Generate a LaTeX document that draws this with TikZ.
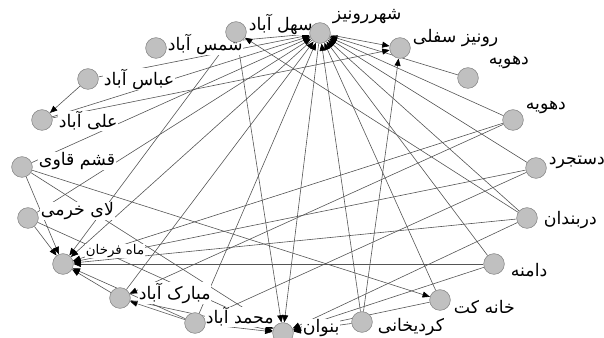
\documentclass[tikz,border=0pt]{standalone}
\usepackage{fontspec}
\newfontfamily\arabicfont[Script=Arabic]{DejaVu Sans}
\TeXXeTstate=1
\usetikzlibrary{arrows.meta}
\pgfdeclarelayer{ties}
\pgfdeclarelayer{labels}
\pgfsetlayers{ties,labels,main}

\begin{document}
\begin{tikzpicture}[x=0.75pt,y=0.75pt,yscale=-1,xscale=1,
  vertex/.style={circle,draw={rgb,255:red,130;green,130;blue,130},fill={rgb,255:red,192;green,192;blue,192},minimum size=15.5pt,inner sep=0pt},
  tie/.style={draw={rgb,255:red,85;green,85;blue,85},line width=0.45pt,-{Triangle[length=5.5pt,width=4.5pt,color=black]}},
  lbl/.style={fill=white,inner sep=0.5pt,anchor=west,font=\arabicfont\fontsize{13}{14}\selectfont},
  smalllbl/.style={lbl,font=\arabicfont\fontsize{10}{11}\selectfont}]
\useasboundingbox (0,0) rectangle (604,338);

% Vertices
\node [vertex] (hub) at (320,33) {};
\node [vertex] (sahl) at (236,32) {};
\node [vertex] (shams) at (156,48) {};
\node [vertex] (ronsof) at (400,48) {};
\node [vertex] (dahA) at (468,78) {};
\node [vertex] (abbas) at (88,79) {};
\node [vertex] (ali) at (42,120) {};
\node [vertex] (qeshm) at (22,167) {};
\node [vertex] (lay) at (28,218) {};
\node [vertex] (mah) at (63,264) {};
\node [vertex] (mobarak) at (120,298) {};
\node [vertex] (mohamad) at (195,323) {};
\node [vertex] (bonvan) at (283,333) {};
\node [vertex] (kord) at (362,322) {};
\node [vertex] (khane) at (440,300) {};
\node [vertex] (damane) at (494,264) {};
\node [vertex] (darband) at (527,218) {};
\node [vertex] (dastjerd) at (536,168) {};
\node [vertex] (dahB) at (513,120) {};

\begin{pgfonlayer}{ties}
% Ties into the hub
\draw [tie] (shams) -- (hub);
\draw [tie] (abbas) -- (hub);
\draw [tie] (ali) -- (hub);
\draw [tie] (qeshm) -- (hub);
\draw [tie] (lay) -- (hub);
\draw [tie] (mobarak) -- (hub);
\draw [tie] (mohamad) -- (hub);
\draw [tie] (kord) -- (hub);
\draw [tie] (khane) -- (hub);
\draw [tie] (damane) -- (hub);
\draw [tie] (darband) -- (hub);
\draw [tie] (dastjerd) -- (hub);
\draw [tie] (dahB) -- (hub);
\draw [tie] (dahA) -- (hub);
% Ties out of the hub
\draw [tie] (hub) -- (ronsof);
\draw [tie] (hub) -- (mah);
\draw [tie] (hub) -- (bonvan);
% Other ties
\draw [tie] (abbas) -- (ali);
\draw [tie] (ali) -- (ronsof);
\draw [tie] (kord) -- (ronsof);
\draw [tie] (darband) -- (sahl);
\draw [tie] (sahl) -- (mah);
\draw [tie] (sahl) -- (bonvan);
\draw [tie] (qeshm) -- (mah);
\draw [tie] (lay) -- (mah);
\draw [tie] (qeshm) -- (khane);
\draw [tie] (qeshm) -- (bonvan);
\draw [tie] (lay) -- (bonvan);
\draw [tie] (damane) -- (mah);
\draw [tie] (dastjerd) -- (mah);
\draw [tie] (dahB) -- (mah);
\draw [tie] (darband) -- (mah);
\draw [tie] (mobarak) -- (mah);
\draw [tie] (mohamad) -- (mah);
\draw [tie] (mohamad) -- (mobarak);
\draw [tie] (dahB) -- (mobarak);
\draw [tie] (dastjerd) -- (mohamad);
\draw [tie] (mohamad) -- (bonvan);
\draw [tie] (mobarak) -- (bonvan);
\draw [tie] (kord) -- (bonvan);
\draw [tie] (khane) -- (bonvan);
\draw [tie] (damane) -- (bonvan);
\draw [tie] (darband) -- (bonvan);
\end{pgfonlayer}

\begin{pgfonlayer}{labels}
% Text Nodes
\node [lbl] (hub-l) at (332,17) {\beginR شهررونیز\endR};
\node [lbl] (sahl-l) at (248,24) {\beginR سهل آباد\endR};
\node [lbl] (shams-l) at (167,44) {\beginR شمس آباد\endR};
\node [lbl] (ronsof-l) at (412,38) {\beginR رونیز سفلی\endR};
\node [lbl] (dahA-l) at (488,62) {\beginR دهویه\endR};
\node [lbl] (abbas-l) at (103,79) {\beginR عباس آباد\endR};
\node [lbl] (ali-l) at (58,121) {\beginR علی آباد\endR};
\node [lbl] (qeshm-l) at (38,161) {\beginR قشم قاوی\endR};
\node [lbl] (lay-l) at (40,211) {\beginR لای خرمی\endR};
\node [smalllbl] (mah-l) at (85,251) {\beginR ماه فرخان\endR};
\node [lbl] (mobarak-l) at (138,293) {\beginR مبارک آباد\endR};
\node [lbl] (mohamad-l) at (205,317) {\beginR محمد آباد\endR};
\node [lbl] (bonvan-l) at (302,328) {\beginR بنوان\endR};
\node [lbl] (kord-l) at (377,327) {\beginR کردیخانی\endR};
\node [lbl] (khane-l) at (453,307) {\beginR خانه کت\endR};
\node [lbl] (damane-l) at (510,270) {\beginR دامنه\endR};
\node [lbl] (darband-l) at (543,220) {\beginR دربندان\endR};
\node [lbl] (dastjerd-l) at (548,162) {\beginR دستجرد\endR};
\node [lbl] (dahB-l) at (525,107) {\beginR دهویه\endR};
\end{pgfonlayer}
\end{tikzpicture}
\end{document}
